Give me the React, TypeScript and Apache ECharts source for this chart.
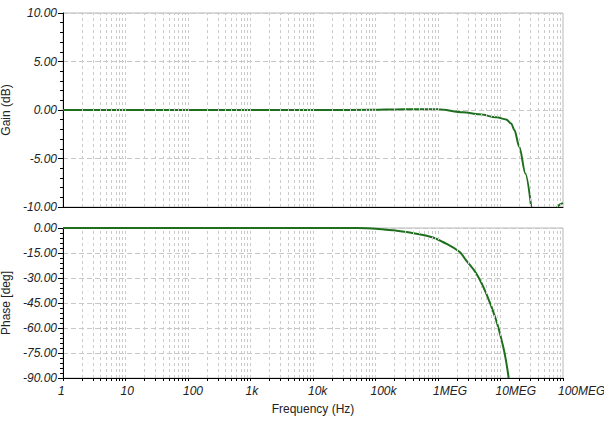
import React, { useEffect, useRef } from "react";
import * as echarts from "echarts";

// Gain (dB) vs frequency (Hz)
const gainFreq = [1, 10, 100, 1e3, 1e4, 1e5, 2e5, 4e5, 1e6, 2.5e6, 4.6e6, 8.7e6, 12.3e6, 14.8e6, 16.7e6, 20e6, 25e6, 31e6];
const gainDb = [0, 0, 0, 0, 0, 0.02, 0.06, 0.09, 0.07, -0.24, -0.45, -0.76, -0.97, -1.38, -2.07, -3.8, -6.55, -10];
const gainTailFreq = [80e6, 90e6, 100e6];
const gainTailDb = [-10, -9.72, -9.6];

// Phase (deg) vs frequency (Hz)
const phaseFreq = [1, 10, 100, 1e3, 1e4, 5e4, 7.2e4, 1.31e5, 1.9e5, 4.5e5, 8.3e5, 1.2e6, 2.2e6, 2.8e6, 4.1e6, 5.9e6, 8.5e6, 11e6, 12.3e6, 13.5e6];
const phaseDeg = [0, 0, 0, 0, 0, 0, -0.1, -0.8, -1.4, -3.4, -5.7, -8.4, -14.3, -19.3, -27.3, -39.2, -55.2, -71, -80, -90];

// Axis ticks
const decadeTicks = [1, 10, 100, 1e3, 1e4, 1e5, 1e6, 1e7, 1e8];
const decadeLabels = ["1", "10", "100", "1k", "10k", "100k", "1MEG", "10MEG", "100MEG"];
const minorMultipliers = [2, 3, 4, 5, 6, 7, 8, 9];

const FONT = "'Liberation Sans', Arial, sans-serif";
const GREEN = "#1d6e1d";

export default function App() {
  const ref = useRef<HTMLDivElement>(null);

  useEffect(() => {
    if (!ref.current) return;
    const chart = echarts.init(ref.current, undefined, { renderer: "svg" });

    const minorTicks: number[] = [];
    decadeTicks.slice(0, -1).forEach((d) => minorMultipliers.forEach((m) => minorTicks.push(d * m)));
    const allTicks = [...decadeTicks, ...minorTicks].sort((a, b) => a - b);
    const gridLineFreqs = allTicks.filter((f) => f > 1 && f < 1e8);

    const labelFor = (v: number) => {
      const i = Math.round(Math.log10(v));
      return decadeLabels[i] ?? "";
    };

    const baseX = (gridIndex: number) => ({
      gridIndex,
      type: "log" as const,
      logBase: 10,
      min: 1,
      max: 1e8,
      axisLine: { show: true, onZero: false, lineStyle: { color: "#000", width: 1 } },
      splitLine: { show: false },
    });

    const baseY = (gridIndex: number, min: number, max: number, interval: number, name: string) => ({
      gridIndex,
      type: "value" as const,
      min,
      max,
      interval,
      name,
      nameLocation: "middle" as const,
      nameGap: 43,
      nameTextStyle: { fontFamily: FONT, fontSize: 12, color: "#222" },
      axisLine: { show: true, onZero: false, lineStyle: { color: "#000", width: 1 } },
      axisTick: { show: true, length: 5, lineStyle: { color: "#000" } },
      minorTick: { show: true, splitNumber: 5, length: 3, lineStyle: { color: "#000" } },
      axisLabel: {
        formatter: (v: number) => v.toFixed(2),
        fontFamily: FONT,
        fontStyle: "italic",
        fontSize: 12,
        color: "#222",
        margin: 6,
      },
      splitLine: { show: true, lineStyle: { type: [5, 3], color: "#c8c8c8", width: 1 } },
    });

    const gridLines = (idx: number) => ({
      type: "line" as const,
      xAxisIndex: idx,
      yAxisIndex: idx,
      data: [],
      silent: true,
      z: 1,
      markLine: {
        silent: true,
        symbol: ["none", "none"],
        label: { show: false },
        lineStyle: { type: [3, 3], color: "#cacaca", width: 1 },
        data: gridLineFreqs.map((f) => ({ xAxis: f })),
      },
    });

    const gridBase = { left: 63, width: 500, show: true, borderColor: "#b8b8b8", borderWidth: 1, containLabel: false, outerBoundsMode: "none" };

    chart.setOption({
      animation: false,
      backgroundColor: "#fff",
      grid: [
        { ...gridBase, top: 13, height: 194 },
        { ...gridBase, top: 228, height: 150 },
      ],
      xAxis: [
        { ...baseX(0), axisTick: { show: false }, axisLabel: { show: false } },
        {
          ...baseX(1),
          name: "Frequency (Hz)",
          nameLocation: "middle",
          nameGap: 25,
          nameTextStyle: { fontFamily: FONT, fontSize: 12, color: "#222" },
          axisTick: { show: true, length: 3, customValues: allTicks, lineStyle: { color: "#000" } },
          axisLabel: {
            customValues: decadeTicks,
            formatter: (v: number) => labelFor(v),
            fontFamily: FONT,
            fontStyle: "italic",
            fontSize: 12,
            color: "#222",
            align: "left",
            padding: [0, 0, 0, -5],
            margin: 7,
          },
        },
      ],
      yAxis: [baseY(0, -10, 10, 5, "Gain (dB)"), baseY(1, -90, 0, 15, "Phase [deg]")],
      series: [
        gridLines(0),
        gridLines(1),
        {
          type: "line",
          xAxisIndex: 0,
          yAxisIndex: 0,
          z: 3,
          showSymbol: false,
          smooth: 0.3,
          smoothMonotone: "x",
          lineStyle: { color: GREEN, width: 2 },
          data: gainFreq.map((f, i) => [f, gainDb[i]]),
        },
        {
          type: "line",
          xAxisIndex: 0,
          yAxisIndex: 0,
          z: 3,
          showSymbol: false,
          smooth: 0.3,
          lineStyle: { color: GREEN, width: 2 },
          data: gainTailFreq.map((f, i) => [f, gainTailDb[i]]),
        },
        {
          type: "line",
          xAxisIndex: 1,
          yAxisIndex: 1,
          z: 3,
          showSymbol: false,
          smooth: 0.4,
          lineStyle: { color: GREEN, width: 2 },
          data: phaseFreq.map((f, i) => [f, phaseDeg[i]]),
        },
      ],
    });

    return () => chart.dispose();
  }, []);

  return (
    <div
      ref={ref}
      style={{ position: "absolute", left: 0, top: 0, width: 604, height: 428, background: "#fff" }}
    />
  );
}
